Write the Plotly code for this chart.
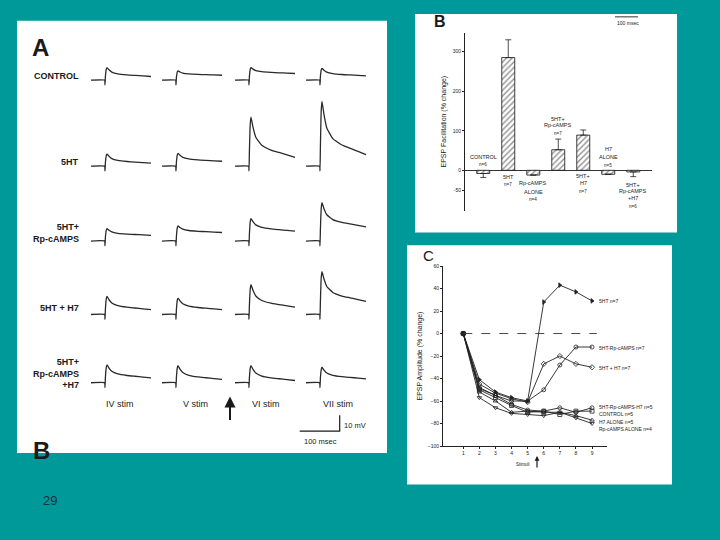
import plotly.graph_objects as go

W, H = 720, 540
TEAL = "#009999"
INK = "#1a1a1a"
FONT = "Liberation Sans"


def PX(x):
    return x / W


def PY(y):
    return 1 - y / H


# ---------------- Panel A data (EPSP traces, mV) ----------------
ROW_LABELS = ["CONTROL", "5HT", "5HT+<br>Rp-cAMPS", "5HT + H7", "5HT+<br>Rp-cAMPS<br>+H7"]
COL_LABELS = ["IV stim", "V stim", "VI stim", "VII stim"]
PEAK_CONTROL = [7.9, 5.8, 7.9, 7.5]
END_CONTROL = [2.3, 3.1, 4.2, 2.7]
PEAK_5HT = [7.7, 8.1, 31.0, 41.0]
END_5HT = [1.9, 3.1, 5.6, 7.3]
PEAK_5HT_RP = [7.9, 9.6, 14.2, 24.2]
END_5HT_RP = [3.6, 5.4, 6.2, 9.0]
PEAK_5HT_H7 = [11.4, 10.4, 18.8, 27.1]
END_5HT_H7 = [3.1, 3.1, 4.6, 8.3]
PEAK_5HT_RP_H7 = [11.3, 10.8, 10.8, 9.8]
END_5HT_RP_H7 = [3.1, 2.1, 1.4, 2.5]

# waveform shape (time in ms after sweep start)
TRACE_T_MS = [0, 34, 35, 36, 37, 38, 40, 45, 52, 67, 90, 110, 130, 150]
PEAK_WEIGHT = [0, 0, 0, 0.3, 0.6, 0.85, 1, 0.75, 0.5, 0.3, 0.18, 0.12, 0.06, 0]
END_WEIGHT = [0, 0, 0, 0, 0, 0, 0, 0.25, 0.5, 0.7, 0.82, 0.88, 0.94, 1]
ARTIFACT_MV = [0, 0, -3, 0, 0, 0, 0, 0, 0, 0, 0, 0, 0, 0]

# ---------------- Panel B data ----------------
B_GROUPS = ["CONTROL", "5HT", "Rp-cAMPS ALONE", "5HT+ Rp-cAMPS", "5HT+ H7", "H7 ALONE", "5HT+ Rp-cAMPS +H7"]
B_VALUES = [-8, 285, -12, 52, 89, -10, -4]
B_ERR_UP = [0, 45, 0, 27, 13, 0, 0]
B_ERR_DOWN = [10, 0, 0, 0, 0, 0, 12]
B_TICKS = [-50, 0, 100, 200, 300]

# ---------------- Panel C data ----------------
STIMULI = [1, 2, 3, 4, 5, 6, 7, 8, 9]
C_5HT = [0, -41, -52, -57, -60, 28, 43, 37, 29]
C_5HT_RP = [0, -48, -55, -60, -60, -50, -28, -12, -12]
C_5HT_H7 = [0, -45, -53, -58, -61, -27, -20, -27, -30]
C_5HT_RP_H7 = [0, -49, -55, -63, -68, -69, -66, -70, -66]
C_CONTROL = [0, -50, -57, -64, -70, -69, -72, -69, -69]
C_H7 = [0, -52, -60, -70, -69, -70, -70, -73, -77]
C_RP = [0, -57, -66, -71, -72, -73, -70, -75, -80]
C_TICKS_Y = [60, 40, 20, 0, -20, -40, -60, -80, -100]

fig = go.Figure()

# ---------- Panel A traces ----------
A_X0, A_X1, A_Y0, A_Y1 = 17, 387, 18, 455
MS_PER_PX, MV_PER_PX = 2.5, 0.625
row_base_px = [78, 165, 240.7, 315, 384]
col_start_px = [91, 162, 235, 306]
rows = [
    (PEAK_CONTROL, END_CONTROL),
    (PEAK_5HT, END_5HT),
    (PEAK_5HT_RP, END_5HT_RP),
    (PEAK_5HT_H7, END_5HT_H7),
    (PEAK_5HT_RP_H7, END_5HT_RP_H7),
]
for r, (peaks, ends) in enumerate(rows):
    base = (A_Y1 - row_base_px[r]) * MV_PER_PX
    for c in range(4):
        t0 = (col_start_px[c] - A_X0) * MS_PER_PX
        xs = [t0 + t for t in TRACE_T_MS]
        ys = [base + pw * peaks[c] + ew * ends[c] + a
              for pw, ew, a in zip(PEAK_WEIGHT, END_WEIGHT, ARTIFACT_MV)]
        fig.add_trace(go.Scatter(x=xs, y=ys, mode="lines", xaxis="x", yaxis="y",
                                 line=dict(color="#2a2a2a", width=1.3, shape="spline", smoothing=0.4),
                                 showlegend=False, hoverinfo="skip"))

# scale bars (10 mV, 100 msec)
sb_x = (339.7 - A_X0) * MS_PER_PX
sb_y = (A_Y1 - 433) * MV_PER_PX
fig.add_trace(go.Scatter(x=[sb_x - 100, sb_x, sb_x], y=[sb_y, sb_y, sb_y + 10], mode="lines",
                         xaxis="x", yaxis="y", line=dict(color=INK, width=1.2),
                         showlegend=False, hoverinfo="skip"))

# ---------- Panel B bars ----------
fig.add_trace(go.Bar(
    x=list(range(len(B_VALUES))), y=B_VALUES, width=0.52, xaxis="x2", yaxis="y2",
    marker=dict(color="white", line=dict(color="#111", width=0.8),
                pattern=dict(shape="/", fgcolor="#222", bgcolor="white", size=4, solidity=0.35)),
    error_y=dict(type="data", symmetric=False, array=B_ERR_UP, arrayminus=B_ERR_DOWN,
                 color="#222", thickness=0.8, width=3),
    showlegend=False, hoverinfo="skip"))

# ---------- Panel C lines ----------
c_series = [
    ("5HT n=7", C_5HT, "triangle-right", 301.7),
    ("5HT-Rp-cAMPS n=7", C_5HT_RP, "circle-open", 348.7),
    ("5HT + H7 n=7", C_5HT_H7, "diamond-open", 369.3),
    ("5HT-Rp-cAMPS-H7 n=5", C_5HT_RP_H7, "circle-open", 408.3),
    ("CONTROL n=5", C_CONTROL, "square-open", 415.5),
    ("H7 ALONE n=5", C_H7, "triangle-up-open", 423.5),
    ("Rp-cAMPS ALONE n=4", C_RP, "triangle-down-open", 430.5),
]
for name, vals, sym, _ in c_series:
    fig.add_trace(go.Scatter(x=STIMULI, y=vals, mode="lines+markers", xaxis="x3", yaxis="y3",
                             line=dict(color="#222", width=0.9),
                             marker=dict(symbol=sym, size=4, color="#222", line=dict(color="#222", width=0.8)),
                             showlegend=False, hoverinfo="skip"))

shapes = []
# white panels
for x0, y0, x1, y1 in [(17, 18, 387, 455), (415, 11, 677, 232), (407, 245, 672, 487)]:
    shapes.append(dict(type="rect", xref="paper", yref="paper", x0=PX(x0), x1=PX(x1),
                       y0=PY(y1), y1=PY(y0), fillcolor="white", line=dict(width=0), layer="below"))
# dashed zero line in C
shapes.append(dict(type="line", xref="x3", yref="y3", x0=1, x1=9.3, y0=0, y1=0,
                   line=dict(color="#333", width=0.9, dash="dash")))
# 100 msec bar at top of B
shapes.append(dict(type="line", xref="paper", yref="paper", x0=PX(615), x1=PX(638), y0=PY(14), y1=PY(14),
                   line=dict(color="#333", width=1)))

ann = []


def text(x, y, s, size, xanchor="center", yanchor="middle", bold=False, color=INK, angle=0, align="center"):
    ann.append(dict(x=PX(x), y=PY(y), xref="paper", yref="paper", text=f"<b>{s}</b>" if bold else s,
                    showarrow=False, xanchor=xanchor, yanchor=yanchor, textangle=angle, align=align,
                    font=dict(family=FONT, size=size, color=color)))


def arrow(x, y_head, length, width, size):
    ann.append(dict(x=PX(x), y=PY(y_head), xref="paper", yref="paper", axref="pixel", ayref="pixel",
                    ax=0, ay=length, showarrow=True, arrowhead=2, arrowsize=size,
                    arrowwidth=width, arrowcolor=INK, text=""))


# Panel A text
text(40, 45, "A", 24, bold=True)
text(41, 437, "B", 24, bold=True, yanchor="top")
label_y = [74, 161, 233, 308, 375]
for lab, y in zip(ROW_LABELS, label_y):
    text(81, y, lab, 9, xanchor="right", bold=True, align="right")
for lab, x in zip(COL_LABELS, [120, 195, 266, 338]):
    text(x, 405, lab, 9)
arrow(230, 398, 25, 2, 1.1)
text(355, 427, "10 mV", 7.5)
text(320, 443, "100 msec", 7.5)

# Panel B text
text(440, 19, "B", 16, bold=True)
text(628, 20, "100 msec", 5)
b_labels = [
    (0, ["CONTROL", "n=6"], [34, 14]),
    (1, ["5HT", "n=7"], [-16, -35]),
    (2, ["Rp-cAMPS", "ALONE", "n=4"], [-32, -54, -75]),
    (3, ["5HT+", "Rp-cAMPS", "n=7"], [131, 115, 92]),
    (4, ["5HT+", "H7", "n=7"], [-14, -33, -54]),
    (5, ["H7", "ALONE", "n=5"], [54, 33, 13]),
    (6, ["5HT+", "Rp-cAMPS", "+H7", "n=6"], [-37, -53, -71, -92]),
]
for gx, lines, ys in b_labels:
    for ln, yy in zip(lines, ys):
        ann.append(dict(x=gx, y=yy, xref="x2", yref="y2", text=ln, showarrow=False,
                        font=dict(family=FONT, size=5.5 if not ln.startswith("n=") else 4.5, color=INK)))

# Panel C text
text(428, 255, "C", 15)
for name, _, _, yy in c_series:
    text(597, yy, name, 5, xanchor="left")
text(523, 467, "Stimuli", 4.5)
arrow(537, 458, 13, 1.2, 0.8)

# slide number
text(50, 503, "29", 13, color="#16323a")

axis_common = dict(showgrid=False, color=INK, linecolor="#222", linewidth=1,
                   tickfont=dict(family=FONT, size=5, color=INK), ticks="outside", ticklen=2,
                   tickcolor="#222", tickwidth=0.8)

fig.update_layout(
    width=W, height=H, margin=dict(l=0, r=0, t=0, b=0),
    paper_bgcolor=TEAL, plot_bgcolor="rgba(0,0,0,0)",
    shapes=shapes, annotations=ann,
    xaxis=dict(domain=[PX(A_X0), PX(A_X1)], range=[0, (A_X1 - A_X0) * MS_PER_PX], visible=False),
    yaxis=dict(domain=[PY(A_Y1), PY(A_Y0)], range=[0, (A_Y1 - A_Y0) * MV_PER_PX], visible=False),
    xaxis2=dict(domain=[PX(464), PX(652)], range=[-0.77, 6.75], anchor="y2", visible=False),
    yaxis2=dict(domain=[PY(210), PY(30)], range=[-102, 348], anchor="free", position=PX(464),
                tickvals=B_TICKS, ticktext=[str(v) for v in B_TICKS], showline=True,
                zeroline=True, zerolinecolor="#333", zerolinewidth=0.8,
                title=dict(text="EPSP Facilitation (% change)", font=dict(family=FONT, size=7, color=INK),
                           standoff=4),
                **axis_common),
    xaxis3=dict(domain=[PX(443), PX(607)], range=[-0.26, 9.93], anchor="y3", tickvals=STIMULI,
                showline=True, zeroline=False, **axis_common),
    yaxis3=dict(domain=[PY(448), PY(266)], range=[-100, 60], anchor="x3", tickvals=C_TICKS_Y,
                showline=True, zeroline=False,
                title=dict(text="EPSP Amplitude (% change)", font=dict(family=FONT, size=7, color=INK),
                           standoff=4),
                **axis_common),
)

fig.write_html("out.html", config={"displayModeBar": False},
               post_script="document.body.style.margin='0';document.body.style.padding='0';"
                           "document.body.style.background='" + TEAL + "';")
